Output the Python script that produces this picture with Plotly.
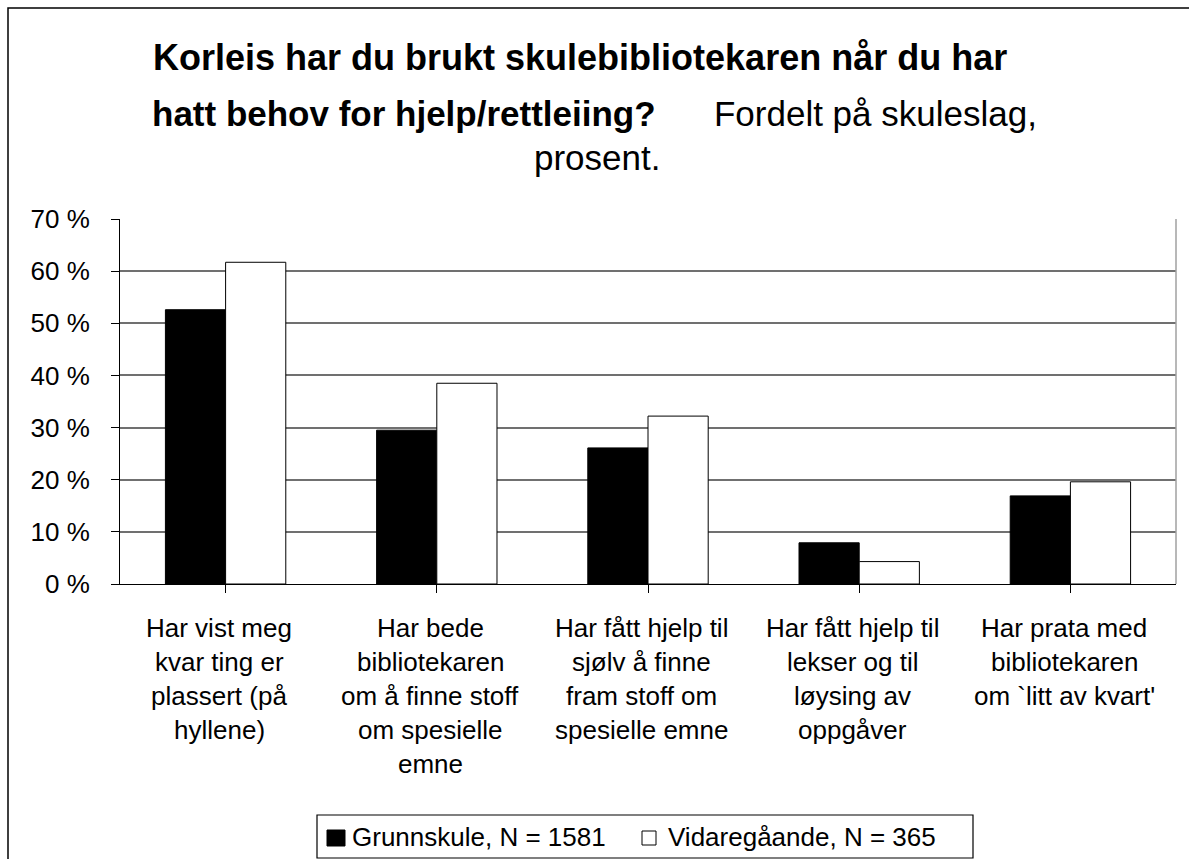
import plotly.graph_objects as go

categories = [
    "Har vist meg<br>kvar ting er<br>plassert (på<br>hyllene)",
    "Har bede<br>bibliotekaren<br>om å finne stoff<br>om spesielle<br>emne",
    "Har fått hjelp til<br>sjølv å finne<br>fram stoff om<br>spesielle emne",
    "Har fått hjelp til<br>lekser og til<br>løysing av<br>oppgåver",
    "Har prata med<br>bibliotekaren<br>om `litt av kvart'",
]
grunnskule = [52.6, 29.5, 26.1, 7.9, 16.9]
vidaregaande = [61.7, 38.5, 32.2, 4.3, 19.6]
series_names = ["Grunnskule, N = 1581", "Vidaregåande, N = 365"]
series_colors = ["black", "white"]
y_ticks = [0, 10, 20, 30, 40, 50, 60, 70]
y_tick_labels = [f"{v} %" for v in y_ticks]

W, H = 1189, 859
L, R, T, B = 120, 1176, 219, 584
FONT = "Liberation Sans, Arial, sans-serif"

def px_x(x):
    return (x - L) / (R - L)

def px_y(y):
    return (B - y) / (B - T)

fig = go.Figure()
for vals, name, col in zip([grunnskule, vidaregaande], series_names, series_colors):
    fig.add_trace(go.Bar(
        x=list(range(len(categories))), y=vals, name=name, showlegend=False,
        marker=dict(color=col, line=dict(color="black", width=1)),
    ))

annotations = []
for i, lab in enumerate(categories):
    for j, line in enumerate(lab.split("<br>")):
        annotations.append(dict(
            x=i - 0.03, xref="x", y=px_y(628 + 34 * j), yref="paper",
            text=line, showarrow=False, xanchor="center", yanchor="middle",
            font=dict(family=FONT, size=26, color="black"),
        ))

annotations.append(dict(
    x=px_x(580), y=px_y(58), xref="paper", yref="paper", showarrow=False,
    text="<b>Korleis har du brukt skulebibliotekaren når du har</b>",
    font=dict(family=FONT, size=36, color="black"), xanchor="center", yanchor="middle",
))
annotations.append(dict(
    x=px_x(594), y=px_y(114), xref="paper", yref="paper", showarrow=False,
    text="<b>hatt behov for hjelp/rettleiing?</b>      Fordelt på skuleslag,",
    font=dict(family=FONT, size=35, color="black"), xanchor="center", yanchor="middle",
))
annotations.append(dict(
    x=px_x(597), y=px_y(157), xref="paper", yref="paper", showarrow=False,
    text="prosent.",
    font=dict(family=FONT, size=35, color="black"), xanchor="center", yanchor="middle",
))

shapes = [
    # outer chart frame (runs past the right and bottom edges)
    dict(type="rect", xref="paper", yref="paper",
         x0=px_x(8), x1=px_x(1220), y0=px_y(900), y1=px_y(8),
         line=dict(color="black", width=1.5), fillcolor="rgba(0,0,0,0)", layer="below"),
    # right border of plot area
    dict(type="line", xref="paper", yref="paper", x0=1, x1=1, y0=0, y1=1,
         line=dict(color="#a0a0a0", width=1.5)),
    # legend box
    dict(type="rect", xref="paper", yref="paper",
         x0=px_x(317), x1=px_x(973), y0=px_y(858), y1=px_y(815),
         line=dict(color="black", width=1.2), fillcolor="white"),
]

# legend entries
legend_sym = [(327, 345, 830, 846), (642, 656, 831, 845)]
legend_text_x = [350, 666]
for (x0, x1, y0, y1), tx, name, col in zip(legend_sym, legend_text_x, series_names, series_colors):
    shapes.append(dict(type="rect", xref="paper", yref="paper",
                       x0=px_x(x0), x1=px_x(x1), y0=px_y(y1), y1=px_y(y0),
                       line=dict(color="black", width=1), fillcolor=col))
    annotations.append(dict(
        x=px_x(tx), y=px_y(837), xref="paper", yref="paper", showarrow=False,
        text=name, xanchor="left", yanchor="middle",
        font=dict(family=FONT, size=26, color="black"),
    ))

fig.update_layout(
    width=W, height=H,
    margin=dict(l=L, r=W - R, t=T, b=H - B),
    paper_bgcolor="white", plot_bgcolor="white",
    barmode="group", bargap=0.43, bargroupgap=0,
    showlegend=False,
    annotations=annotations,
    shapes=shapes,
    font=dict(family=FONT, color="black"),
)
fig.update_xaxes(
    range=[-0.5, len(categories) - 0.5],
    tickmode="array", tickvals=list(range(len(categories))), ticktext=[""] * len(categories),
    tickson="boundaries", ticks="outside", ticklen=8, tickcolor="black", tickwidth=1,
    showline=True, linecolor="black", linewidth=1, showgrid=False, zeroline=False,
)
fig.update_yaxes(
    range=[0, 70], tickvals=y_ticks, ticktext=y_tick_labels,
    ticks="outside", ticklen=8, tickcolor="black", tickwidth=1,
    showline=True, linecolor="black", linewidth=1,
    showgrid=True, gridcolor="#707070", gridwidth=1.5, zeroline=False,
    tickfont=dict(family=FONT, size=26, color="black"), ticklabelstandoff=16,
)

fig.write_html(
    "out.html",
    config={"displayModeBar": False},
    post_script="document.body.style.margin='0';document.body.style.overflow='hidden';",
)
